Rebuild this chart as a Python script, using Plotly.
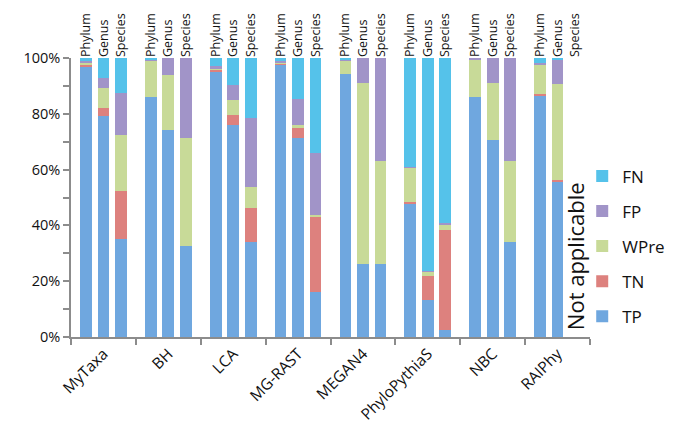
import plotly.graph_objects as go

tools = ["MyTaxa", "BH", "LCA", "MG-RAST", "MEGAN4", "PhyloPythiaS", "NBC", "RAIPhy"]
ranks = ["Phylum", "Genus", "Species"]

# values in % per tool, for [Phylum, Genus, Species]
TP = [[97.0, 79.1, 35.2], [86.0, 74.3, 32.7], [95.2, 76.1, 33.9], [97.6, 71.3, 16.1],
      [94.3, 26.2, 26.2], [47.7, 13.1, 2.4], [85.9, 70.7, 34.1], [86.5, 55.8, None]]
TN = [[0.5, 3.0, 17.0], [0.0, 0.0, 0.0], [0.5, 3.4, 12.3], [0.6, 3.6, 26.8],
      [0.0, 0.0, 0.0], [0.6, 8.6, 36.1], [0.0, 0.0, 0.0], [0.5, 0.6, None]]
WPre = [[0.8, 7.1, 20.3], [13.0, 19.5, 38.6], [0.7, 5.6, 7.6], [0.3, 1.2, 0.9],
        [4.7, 64.8, 36.8], [12.3, 1.8, 1.8], [13.4, 20.3, 28.9], [10.8, 34.3, None]]
FP = [[0.5, 3.6, 15.0], [0.5, 6.2, 28.7], [0.6, 5.3, 24.7], [0.5, 9.3, 22.2],
      [0.6, 9.0, 37.0], [0.5, 0.3, 0.6], [0.7, 9.0, 37.0], [0.4, 8.7, None]]
FN = [[1.2, 7.2, 12.5], [0.5, 0.0, 0.0], [3.0, 9.6, 21.5], [1.0, 14.6, 34.0],
      [0.4, 0.0, 0.0], [38.9, 76.2, 59.1], [0.0, 0.0, 0.0], [1.8, 0.6, None]]

series = [("TP", TP, "#6fa7df"), ("TN", TN, "#dd817e"), ("WPre", WPre, "#c8da98"),
          ("FP", FP, "#a194c8"), ("FN", FN, "#55c2ea")]

offsets = [-0.27, 0.0, 0.27]
xpos = [i + o for i in range(len(tools)) for o in offsets]

fig = go.Figure()
for k, (name, vals, col) in enumerate(series):
    flat = [vals[i][j] for i in range(len(tools)) for j in range(3)]
    fig.add_trace(go.Bar(x=xpos, y=[v / 100 if v is not None else None for v in flat],
                         name=name, width=0.18, marker=dict(color=col, line=dict(width=0)),
                         legendgroup=name, legendrank=len(series) - k))

# dummy trace for top axis
fig.add_trace(go.Scatter(x=xpos, y=[None] * len(xpos), xaxis="x2", showlegend=False,
                         hoverinfo="skip", mode="markers"))

font = "Open Sans, Noto Sans, sans-serif"
fig.update_layout(
    barmode="stack",
    width=678, height=436,
    margin=dict(l=63, r=96, t=50, b=107, autoexpand=False),
    plot_bgcolor="white", paper_bgcolor="white",
    font=dict(family=font, color="#111"),
    bargap=0,
    xaxis=dict(range=[-0.5, 7.5], tickvals=list(range(len(tools))), ticktext=tools,
               tickangle=-45, tickfont=dict(size=15.5), ticks="", showgrid=False,
               showline=True, linecolor="#8c8c8c", linewidth=1.5, zeroline=False,
               minor=dict(tickvals=[i - 0.5 for i in range(len(tools) + 1)], ticks="outside",
                          ticklen=6, tickcolor="#8c8c8c", tickwidth=1.5)),
    xaxis2=dict(range=[-0.5, 7.5], overlaying="x", side="top", tickvals=xpos,
                ticktext=ranks * len(tools), tickangle=-90, tickfont=dict(size=12.5),
                ticks="", showgrid=False, showline=False, zeroline=False, ticklabelstandoff=0),
    yaxis=dict(range=[0, 1], tickvals=[0, 0.2, 0.4, 0.6, 0.8, 1.0],
               ticktext=["0%", "20%", "40%", "60%", "80%", "100%"], tickfont=dict(size=14.5),
               ticks="outside", ticklen=6, tickcolor="#8c8c8c", tickwidth=1.5,
               showgrid=False, showline=True, linecolor="#8c8c8c", linewidth=1.5,
               zeroline=False,
               minor=dict(tickvals=[0.1, 0.3, 0.5, 0.7, 0.9], ticks="outside", ticklen=6,
                          tickcolor="#8c8c8c", tickwidth=1.5)),
    legend=dict(x=0.985, y=0.325, yanchor="middle", xanchor="left", traceorder="grouped",
                tracegroupgap=10, font=dict(size=17), itemwidth=30, bgcolor="rgba(0,0,0,0)"),
    annotations=[dict(x=7.27, y=0.29, xref="x", yref="y", text="Not applicable",
                      textangle=-90, showarrow=False, font=dict(size=22, family=font))],
)

fig.write_html("out.html")
